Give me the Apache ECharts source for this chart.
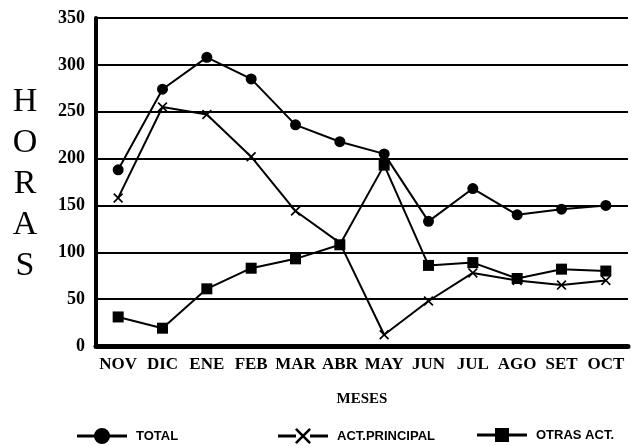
<!DOCTYPE html>
<html>
<head>
<meta charset="utf-8">
<script src="https://cdn.jsdelivr.net/npm/echarts@6/dist/echarts.min.js"></script>
<style>
  html, body { margin: 0; padding: 0; background: #fff; }
  #chart { width: 632px; height: 446px; }
</style>
</head>
<body>
<div id="chart"></div>
<script>
// meses del eje x
var meses = ['NOV', 'DIC', 'ENE', 'FEB', 'MAR', 'ABR', 'MAY', 'JUN', 'JUL', 'AGO', 'SET', 'OCT'];
// horas por serie
var total = [188, 274, 308, 285, 236, 218, 205, 133, 168, 140, 146, 150];
var actPrincipal = [158, 255, 247, 202, 144, 110, 12, 48, 78, 70, 65, 70];
var otrasAct = [31, 19, 61, 83, 93, 108, 193, 86, 89, 72, 82, 80];
var letras = ['H', 'O', 'R', 'A', 'S'];

var cruz = 'path://M0,1.2L1.2,0L5,3.8L8.8,0L10,1.2L6.2,5L10,8.8L8.8,10L5,6.2L1.2,10L0,8.8L3.8,5Z';
var serif = '"Liberation Serif", "DejaVu Serif", serif';

// iconos de la leyenda: linea + marcador grande
var lineas = 'M0,6.5H18V9.5H0ZM32,6.5H50V9.5H32Z';
var iconoTotal = 'path://' + lineas + 'M17,8A8,8 0 1,1 33,8A8,8 0 1,1 17,8Z';
var iconoAct = 'path://' + lineas + 'M17,1.8L18.8,0L25,6.2L31.2,0L33,1.8L26.8,8L33,14.2L31.2,16L25,9.8L18.8,16L17,14.2L23.2,8Z';
var iconoOtras = 'path://' + lineas + 'M18,1H32V15H18Z';

var chart = echarts.init(document.getElementById('chart'));

// letras verticales "HORAS"
var graficos = [];
for (var i = 0; i < letras.length; i++) {
  graficos.push({
    type: 'text',
    x: 25,
    y: 102 + i * 41,
    style: { text: letras[i], font: '34px ' + serif, fill: '#000', align: 'center', verticalAlign: 'middle' }
  });
}

function leyenda(nombre, icono, x) {
  return {
    data: [{ name: nombre, icon: icono }],
    left: x,
    top: 423,
    itemWidth: 50,
    itemHeight: 16,
    itemGap: 0,
    textStyle: {
      color: '#000', fontSize: 13, fontWeight: 'bold',
      fontFamily: '"Liberation Sans Narrow", "Liberation Sans", sans-serif',
      padding: [0, 0, 0, 4]
    }
  };
}

chart.setOption({
  animation: false,
  backgroundColor: '#fff',
  graphic: graficos,
  grid: { left: 96, right: 4, top: 18, bottom: 100 },
  legend: [
    leyenda('TOTAL', iconoTotal, 72),
    leyenda('ACT.PRINCIPAL', iconoAct, 273),
    leyenda('OTRAS ACT.', iconoOtras, 472)
  ],
  xAxis: {
    type: 'category',
    data: meses,
    boundaryGap: true,
    name: 'MESES',
    nameLocation: 'middle',
    nameGap: 46,
    nameTextStyle: { color: '#000', fontSize: 15, fontWeight: 'bold', fontFamily: serif },
    axisLine: { lineStyle: { color: '#000', width: 5 } },
    axisTick: { show: false },
    axisLabel: { color: '#000', fontSize: 17, fontWeight: 'bold', fontFamily: serif, margin: 10, interval: 0 }
  },
  yAxis: {
    type: 'value',
    min: 0,
    max: 350,
    interval: 50,
    axisLine: { show: true, lineStyle: { color: '#000', width: 4 } },
    axisTick: { show: false },
    axisLabel: { color: '#000', fontSize: 18, fontWeight: 'bold', fontFamily: serif, margin: 11 },
    splitLine: { lineStyle: { color: '#000', width: 2 } }
  },
  series: [
    {
      name: 'TOTAL',
      type: 'line',
      data: total,
      symbol: 'circle',
      symbolSize: 11,
      lineStyle: { color: '#000', width: 2 },
      itemStyle: { color: '#000' }
    },
    {
      name: 'ACT.PRINCIPAL',
      type: 'line',
      data: actPrincipal,
      symbol: cruz,
      symbolSize: 10,
      lineStyle: { color: '#000', width: 2 },
      itemStyle: { color: '#000' }
    },
    {
      name: 'OTRAS ACT.',
      type: 'line',
      data: otrasAct,
      symbol: 'rect',
      symbolSize: 11,
      lineStyle: { color: '#000', width: 2 },
      itemStyle: { color: '#000' }
    }
  ]
});
</script>
</body>
</html>
